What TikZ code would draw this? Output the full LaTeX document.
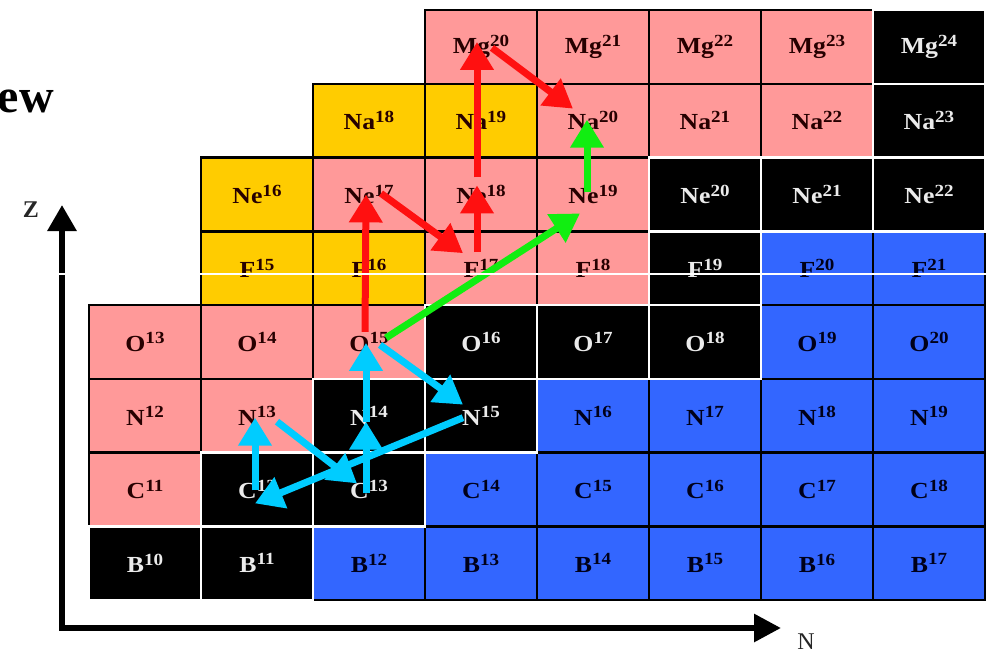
\documentclass[tikz,border=0pt]{standalone}
\usepackage{fontspec}
\setmainfont{Liberation Serif}
\usetikzlibrary{arrows.meta,calc}
\definecolor{cpinkc}{HTML}{FF9999}
\definecolor{cgoldc}{HTML}{FFCC00}
\definecolor{cbluec}{HTML}{3366FF}
\definecolor{credc}{HTML}{FF1010}
\definecolor{cgreenc}{HTML}{11EE11}
\definecolor{ccyanc}{HTML}{00CCFF}
\newcommand\isolab[2]{\scalebox{1.12}[1]{#1\raisebox{7.5pt}{\fontsize{17}{17}\selectfont #2}}}
\tikzset{
  cell/.style={minimum width=112pt, minimum height=73.75pt, inner sep=0pt, outer sep=0pt,
    line width=2.5pt, font=\fontsize{23}{23}\selectfont\bfseries},
  cpink/.style={cell, fill=cpinkc, draw=black, text=black!85!red},
  cgold/.style={cell, fill=cgoldc, draw=black, text=black!85!red},
  cblue/.style={cell, fill=cbluec, draw=black, text=black!90!blue},
  cblack/.style={cell, fill=black, draw=white, text=white!92!black},
  flow/.style={line width=7pt, -{Triangle[width=32pt,length=28pt]}},
  redflow/.style={flow, draw=credc},
  greenflow/.style={flow, draw=cgreenc},
  cyanflow/.style={flow, draw=ccyanc},
  axislab/.style={font=\fontsize{24}{24}\selectfont\bfseries, text=black!85, inner sep=0pt}
}
\begin{document}
\begin{tikzpicture}[x=1pt, y=-1pt]
\useasboundingbox (0,0) rectangle (989,651);
% cells (non-black first)
\foreach \el/\m/\c/\r/\s in {
  Mg/20/3/0/cpink, Mg/21/4/0/cpink, Mg/22/5/0/cpink, Mg/23/6/0/cpink,
  Na/18/2/1/cgold, Na/19/3/1/cgold, Na/20/4/1/cpink, Na/21/5/1/cpink, Na/22/6/1/cpink,
  Ne/16/1/2/cgold, Ne/17/2/2/cpink, Ne/18/3/2/cpink, Ne/19/4/2/cpink,
  F/15/1/3/cgold, F/16/2/3/cgold, F/17/3/3/cpink, F/18/4/3/cpink, F/20/6/3/cblue, F/21/7/3/cblue,
  O/13/0/4/cpink, O/14/1/4/cpink, O/15/2/4/cpink, O/19/6/4/cblue, O/20/7/4/cblue,
  N/12/0/5/cpink, N/13/1/5/cpink, N/16/4/5/cblue, N/17/5/5/cblue, N/18/6/5/cblue, N/19/7/5/cblue,
  C/11/0/6/cpink, C/14/3/6/cblue, C/15/4/6/cblue, C/16/5/6/cblue, C/17/6/6/cblue, C/18/7/6/cblue,
  B/12/2/7/cblue, B/13/3/7/cblue, B/14/4/7/cblue, B/15/5/7/cblue, B/16/6/7/cblue, B/17/7/7/cblue}
  {\node[\s] (\el\m) at ({145+112*\c},{46.9+73.75*\r}) {\isolab{\el}{\m}};}
% black cells
\foreach \el/\m/\c/\r in {
  Mg/24/7/0, Na/23/7/1, Ne/20/5/2, Ne/21/6/2, Ne/22/7/2, F/19/5/3,
  O/16/3/4, O/17/4/4, O/18/5/4, N/14/2/5, N/15/3/5, C/12/1/6, C/13/2/6, B/10/0/7, B/11/1/7}
  {\node[cblack] (\el\m) at ({145+112*\c},{46.9+73.75*\r}) {\isolab{\el}{\m}};}
% axes
\coordinate (origin) at (62,628);
\coordinate (ztip) at (62,205);
\coordinate (ntip) at (781,628);
\draw[line width=6pt, line join=miter, {Triangle[width=28pt,length=26pt]}-{Triangle[width=27pt,length=27pt]}] (ztip) -- (origin) -- (ntip);
\node[axislab] (zlab) at (31,210) {Z};
\node[axislab, anchor=base, font=\fontsize{24}{24}\selectfont] (nlab) at (806,649) {N};
\node[anchor=base east, inner sep=0pt, font=\fontsize{48}{48}\selectfont\bfseries] (title) at (54,112) {ew};
% red arrows
\draw[redflow] ([shift={(-4,-10)}]O15.center) -- ([shift={(-3,0)}]Ne17.center);
\draw[redflow] ([shift={(12,-1)}]Ne17.center) -- ([shift={(-18,-15)}]F17.center);
\draw[redflow] ([shift={(-4,-16)}]F17.center) -- ([shift={(-4,-9)}]Ne18.center);
\draw[redflow] ([shift={(-4,-17)}]Ne18.center) -- ([shift={(-4,-5)}]Mg20.center);
\draw[redflow] ([shift={(11,1)}]Mg20.center) -- ([shift={(-20,-12)}]Na20.center);
% green arrows
\draw[greenflow] ([shift={(17,-4)}]O15.center) -- ([shift={(-13,19)}]Ne19.center);
\draw[greenflow] ([shift={(-6,-2)}]Ne19.center) -- ([shift={(-6,-1)}]Na20.center);
% cyan arrows
\draw[cyanflow] ([shift={(-3,4)}]C13.center) -- ([shift={(-3,6)}]N14.center);
\draw[cyanflow] ([shift={(-3,6)}]N14.center) -- ([shift={(-3,1)}]O15.center);
\draw[cyanflow] ([shift={(11,3)}]O15.center) -- ([shift={(-18,-11)}]N15.center);
\draw[cyanflow] ([shift={(-18,2)}]N15.center) -- ([shift={(-2,14)}]C12.center);
\draw[cyanflow] ([shift={(-2,1)}]C12.center) -- ([shift={(-2,2)}]N13.center);
\draw[cyanflow] ([shift={(20,6)}]N13.center) -- ([shift={(-12,-6)}]C13.center);
% thin white scan line across the picture
\coordinate (scanL) at (0,274);
\coordinate (scanR) at (989,274);
\draw[white, line width=1.3pt] (scanL) -- (scanR);
\end{tikzpicture}
\end{document}
